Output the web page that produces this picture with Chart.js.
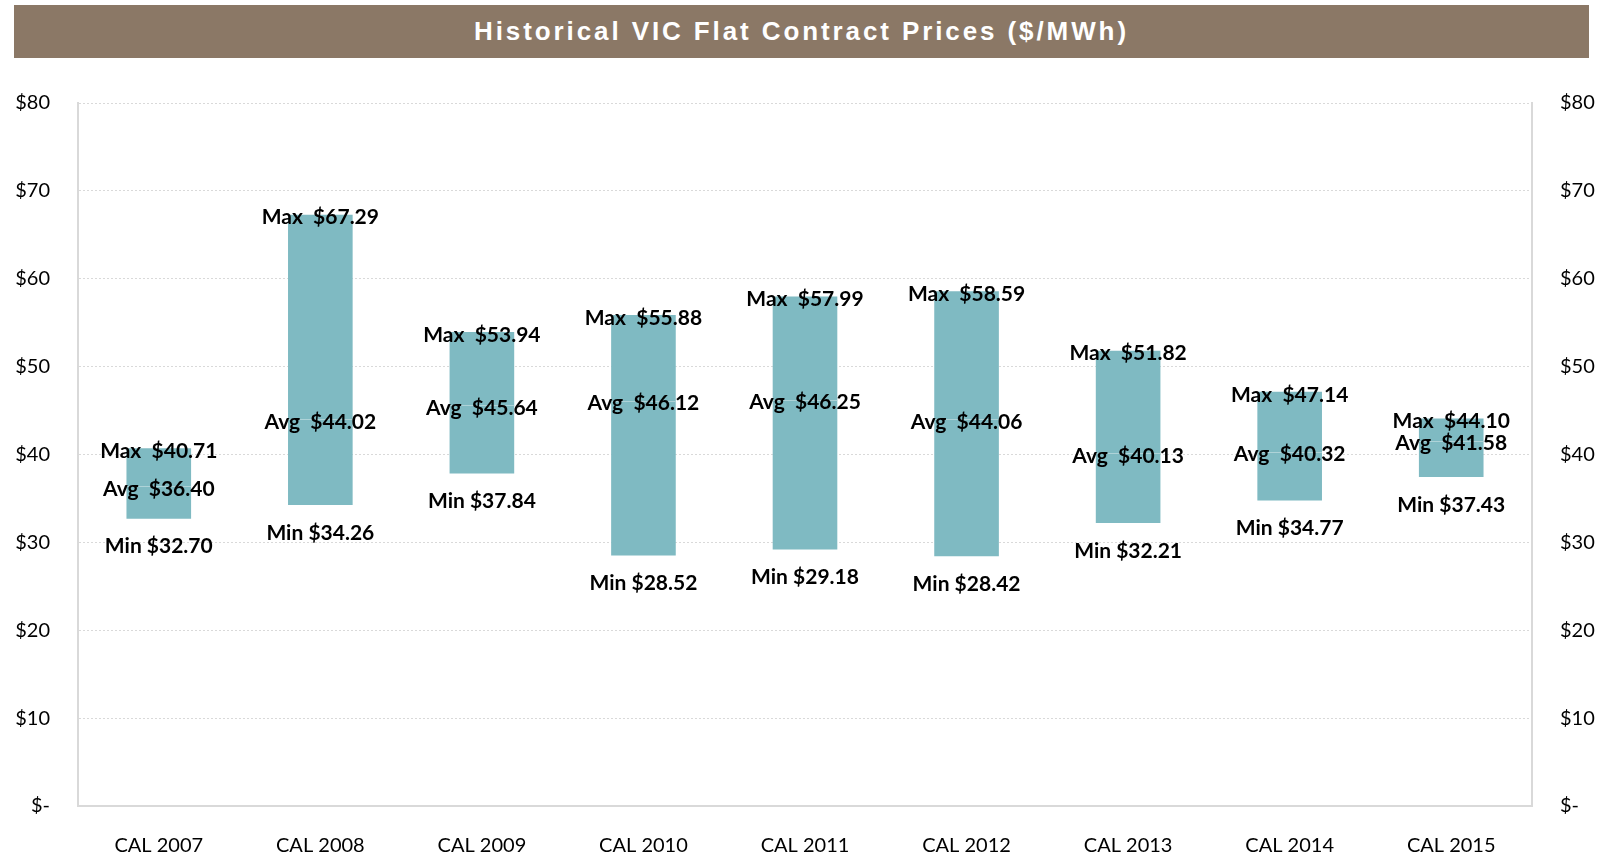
<!DOCTYPE html>
<html lang="en">
<head>
    <meta charset="UTF-8">
    <title>Historical VIC Flat Contract Prices</title>
    <script src="https://cdn.jsdelivr.net/npm/chart.js"></script>
    <style>
        body {
            margin: 0;
            background: #ffffff;
            font-family: 'Lato', sans-serif;
        }
        .wrap {
            position: relative;
            width: 1604px;
            height: 857px;
        }
        .title-band {
            position: absolute;
            left: 14px;
            top: 5px;
            width: 1575px;
            height: 53px;
            background: #8b7866;
            color: #ffffff;
            font-family: 'Liberation Sans', Arial, sans-serif;
            font-weight: bold;
            font-size: 26px;
            letter-spacing: 2.9px;
            line-height: 53px;
            text-align: center;
        }
        canvas {
            position: absolute;
            left: 0;
            top: 0;
        }
    </style>
</head>
<body>
    <div class="wrap">
        <canvas id="priceChart" width="1604" height="857"></canvas>
        <div class="title-band">Historical VIC Flat Contract Prices ($/MWh)</div>
    </div>

    <script>
        const categories = ['CAL 2007', 'CAL 2008', 'CAL 2009', 'CAL 2010', 'CAL 2011', 'CAL 2012', 'CAL 2013', 'CAL 2014', 'CAL 2015'];
        const minPrices = [32.70, 34.26, 37.84, 28.52, 29.18, 28.42, 32.21, 34.77, 37.43];
        const avgPrices = [36.40, 44.02, 45.64, 46.12, 46.25, 44.06, 40.13, 40.32, 41.58];
        const maxPrices = [40.71, 67.29, 53.94, 55.88, 57.99, 58.59, 51.82, 47.14, 44.10];

        const money = v => v === 0 ? '$-' : '$' + v;
        const fmt = v => '$' + v.toFixed(2);

        // avg line + Max/Avg/Min labels for every bar
        const rangeLabels = {
            id: 'rangeLabels',
            afterDatasetsDraw(chart) {
                const ctx = chart.ctx;
                const meta = chart.getDatasetMeta(0);
                const yScale = chart.scales.y;
                ctx.save();
                meta.data.forEach((bar, i) => {
                    const x = bar.x;
                    const half = bar.width / 2;
                    const yAvg = yScale.getPixelForValue(avgPrices[i]);
                    const yMax = yScale.getPixelForValue(maxPrices[i]);
                    const yMin = yScale.getPixelForValue(minPrices[i]);

                    ctx.strokeStyle = '#aed3d8';
                    ctx.lineWidth = 1;
                    ctx.beginPath();
                    ctx.moveTo(x - half, Math.round(yAvg) + 0.5);
                    ctx.lineTo(x + half, Math.round(yAvg) + 0.5);
                    ctx.stroke();

                    ctx.fillStyle = '#000000';
                    ctx.font = 'bold 21px Lato';
                    ctx.textAlign = 'center';
                    ctx.textBaseline = 'middle';
                    ctx.fillText('Max  ' + fmt(maxPrices[i]), x, yMax + 3);
                    ctx.fillText('Avg  ' + fmt(avgPrices[i]), x, yAvg + 3);
                    ctx.fillText('Min ' + fmt(minPrices[i]), x, yMin + 28);
                });
                ctx.restore();
            }
        };

        const gridColor = '#d9d9d9';

        new Chart(document.getElementById('priceChart').getContext('2d'), {
            type: 'bar',
            data: {
                labels: categories,
                datasets: [{
                    label: 'Price range',
                    data: minPrices.map((lo, i) => [lo, maxPrices[i]]),
                    backgroundColor: '#7fbac2',
                    borderWidth: 0,
                    barPercentage: 0.4,
                    categoryPercentage: 1.0
                }]
            },
            options: {
                responsive: false,
                animation: false,
                layout: { padding: { top: 103, left: 0, right: 0, bottom: 0 } },
                plugins: {
                    legend: { display: false },
                    tooltip: { enabled: false }
                },
                scales: {
                    x: {
                        grid: { display: false },
                        border: { display: true, color: gridColor, width: 2 },
                        ticks: {
                            color: '#000000',
                            font: { family: 'Lato', size: 20 },
                            padding: 20,
                            maxRotation: 0
                        },
                        afterFit(scale) { scale.height = 51; }
                    },
                    y: {
                        position: 'left',
                        min: 0,
                        max: 80,
                        grid: { color: gridColor, lineWidth: 1, drawTicks: false },
                        border: { display: true, color: gridColor, width: 2, dash: [2, 2] },
                        ticks: {
                            stepSize: 10,
                            color: '#000000',
                            font: { family: 'Lato', size: 20 },
                            padding: 28,
                            callback: money
                        },
                        afterFit(scale) { scale.width = 78; }
                    },
                    y2: {
                        position: 'right',
                        min: 0,
                        max: 80,
                        grid: { display: false, drawTicks: false },
                        border: { display: true, color: gridColor, width: 2 },
                        ticks: {
                            stepSize: 10,
                            color: '#000000',
                            font: { family: 'Lato', size: 20 },
                            padding: 28,
                            callback: money
                        },
                        afterFit(scale) { scale.width = 72; }
                    }
                }
            },
            plugins: [rangeLabels]
        });
    </script>
</body>
</html>
